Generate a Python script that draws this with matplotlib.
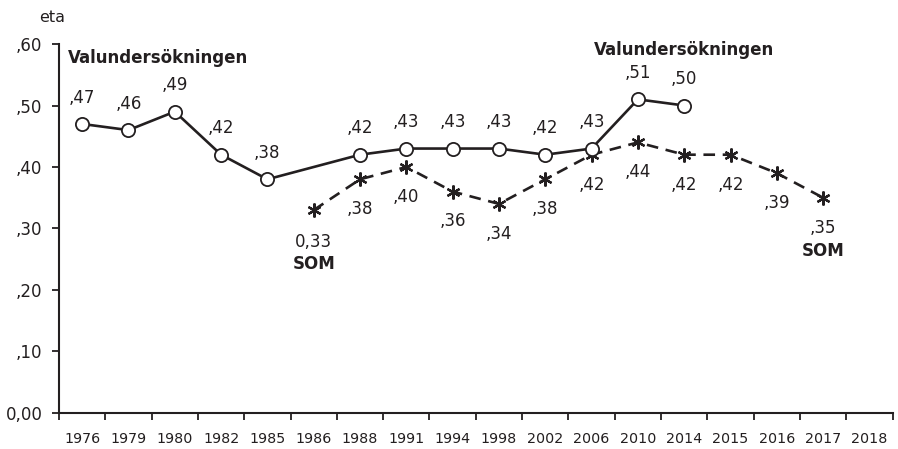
import matplotlib
matplotlib.use("Agg")
import matplotlib.pyplot as plt
import numpy as np

plt.rcParams['font.family'] = ['DejaVu Sans']

years = ["1976", "1979", "1980", "1982", "1985", "1986", "1988", "1991", "1994",
         "1998", "2002", "2006", "2010", "2014", "2015", "2016", "2017", "2018"]
valund_years = ["1976", "1979", "1980", "1982", "1985", "1988", "1991", "1994",
                "1998", "2002", "2006", "2010", "2014"]
valund_vals = [0.47, 0.46, 0.49, 0.42, 0.38, 0.42, 0.43, 0.43, 0.43, 0.42, 0.43, 0.51, 0.50]
som_years = ["1986", "1988", "1991", "1994", "1998", "2002", "2006", "2010", "2014",
             "2015", "2016", "2017"]
som_vals = [0.33, 0.38, 0.40, 0.36, 0.34, 0.38, 0.42, 0.44, 0.42, 0.42, 0.39, 0.35]
yticks = [0.0, 0.1, 0.2, 0.3, 0.4, 0.5, 0.6]
ytick_labels = ["0,00", ",10", ",20", ",30", ",40", ",50", ",60"]

INK = '#231f20'

def fmt(v):
    return "," + f"{v:.2f}".split(".")[1]

fig = plt.figure(figsize=(8.98, 4.49), dpi=100)
ax = fig.add_axes([0.0657, 0.0802, 0.9283, 0.8218])

xv = [years.index(y) for y in valund_years]
xs = [years.index(y) for y in som_years]

ax.plot(xs, som_vals, color=INK, lw=1.9, dashes=(4.4, 2.9),
        marker=(6, 2, 0), markersize=10, markeredgewidth=1.6, zorder=2)
ax.plot(xv, valund_vals, color=INK, lw=1.9, marker='o', markersize=9.5,
        markerfacecolor='white', markeredgecolor=INK, markeredgewidth=1.3, zorder=3)

for x, v in zip(xv, valund_vals):
    ax.annotate(fmt(v), (x, v), xytext=(0, 19), textcoords='offset points',
                ha='center', va='center', fontsize=12, color=INK)
for i, (x, v) in enumerate(zip(xs, som_vals)):
    label = "0,33" if i == 0 else fmt(v)
    off = -23 if i == 0 else -21.5
    ax.annotate(label, (x, v), xytext=(0, off), textcoords='offset points',
                ha='center', va='center', fontsize=12, color=INK)

ax.annotate("SOM", (xs[0], som_vals[0]), xytext=(0, -38.5), textcoords='offset points',
            ha='center', va='center', fontsize=12, fontweight='bold', color=INK)
ax.annotate("SOM", (xs[-1], som_vals[-1]), xytext=(0, -38), textcoords='offset points',
            ha='center', va='center', fontsize=12, fontweight='bold', color=INK)
ax.text(-0.3, 0.577, "Valundersökningen", ha='left', va='center', fontsize=12,
        fontweight='bold', color=INK)
ax.text(13.0, 0.590, "Valundersökningen", ha='center', va='center', fontsize=12,
        fontweight='bold', color=INK)

ax.set_xlim(-0.5, len(years) - 0.5)
ax.set_ylim(0, 0.6)
ax.set_xticks(range(len(years)))
ax.set_xticklabels(years, fontsize=10.3, color=INK)
ax.set_xticks(np.arange(-0.5, len(years), 1.0), minor=True)
ax.tick_params(axis='x', which='major', length=0, pad=14)
ax.tick_params(axis='x', which='minor', length=5, width=1.3, direction='out', color=INK)
ax.set_yticks(yticks)
ax.set_yticklabels(ytick_labels, fontsize=12, color=INK)
ax.tick_params(axis='y', length=5, width=1.3, direction='out', color=INK, pad=7)

for s in ['top', 'right']:
    ax.spines[s].set_visible(False)
for s in ['left', 'bottom']:
    ax.spines[s].set_linewidth(1.5)
    ax.spines[s].set_color(INK)

fig.text(52 / 898, 1 - 17 / 449, "eta", ha='center', va='center', fontsize=11.5, color=INK)

fig.savefig("out.png", dpi=100)
